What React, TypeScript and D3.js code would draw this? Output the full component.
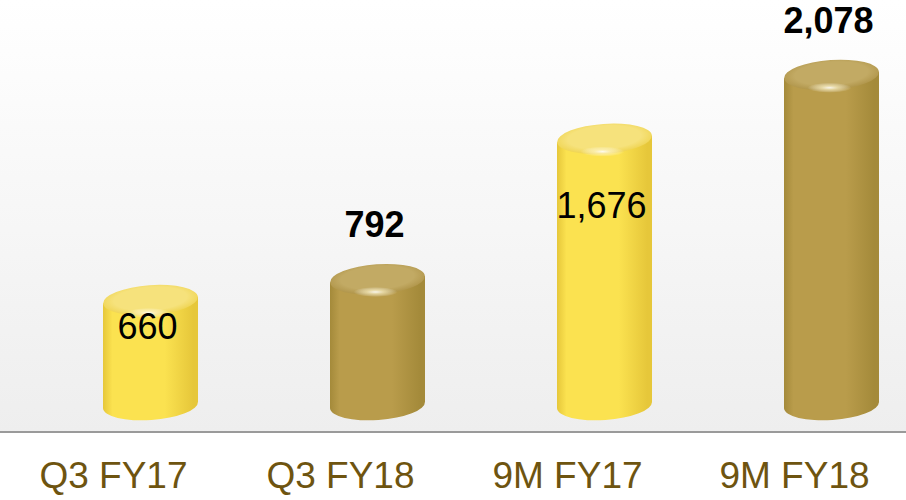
import React from 'react';
import * as d3 from 'd3';

const categories = ['Q3 FY17', 'Q3 FY18', '9M FY17', '9M FY18'];
const values = [660, 792, 1676, 2078];
const valueLabels = ['660', '792', '1,676', '2,078'];
const labelInside = [true, false, true, false];
const barTone = ['yellow', 'gold', 'yellow', 'gold'];

const W = 906;
const H = 500;

const tones = {
  yellow: { edge: '#e6c73a', mid: '#fbe250', top: '#efd452', topIn: '#f6e27c' },
  gold: { edge: '#a48a3a', mid: '#b99c4b', top: '#b0954a', topIn: '#c2aa64' },
};

const App = () => {
  const x = d3.scaleBand<string>().domain(categories).range([0, 908]);
  const y = d3.scaleLinear().domain([0, 2078]).range([405, 75]);
  const barW = 95;
  const rx = barW / 2;
  const ry = 15;
  const tilt = -4;
  const dy = rx * Math.sin((Math.abs(tilt) * Math.PI) / 180);
  const depth = 37;
  const baseY = 432;

  return (
    <svg
      width={W}
      height={H}
      style={{ position: 'absolute', left: 0, top: 0 }}
      fontFamily="'Liberation Sans', Arial, sans-serif"
    >
      <defs>
        <linearGradient id="bg" x1="0" y1="0" x2="0" y2="1">
          <stop offset="0" stopColor="#ffffff" />
          <stop offset="1" stopColor="#eeeeee" />
        </linearGradient>
        {Object.entries(tones).map(([k, t]) => (
          <React.Fragment key={k}>
            <linearGradient id={`body-${k}`} x1="0" y1="0" x2="1" y2="0">
              <stop offset="0" stopColor={t.edge} />
              <stop offset="0.1" stopColor={t.mid} />
              <stop offset="0.65" stopColor={t.mid} />
              <stop offset="0.95" stopColor={t.edge} />
              <stop offset="1" stopColor={t.edge} />
            </linearGradient>
            <radialGradient id={`top-${k}`} cx="0.5" cy="0.45" r="0.55">
              <stop offset="0" stopColor={t.topIn} />
              <stop offset="0.7" stopColor={t.topIn} />
              <stop offset="1" stopColor={t.top} />
            </radialGradient>
          </React.Fragment>
        ))}
        <radialGradient id="hl" cx="0.5" cy="0.5" r="0.5">
          <stop offset="0" stopColor="#ffffff" stopOpacity={0.9} />
          <stop offset="0.4" stopColor="#fff6cc" stopOpacity={0.6} />
          <stop offset="1" stopColor="#ffffff" stopOpacity={0} />
        </radialGradient>
      </defs>
      <rect x={0} y={0} width={W} height={baseY} fill="url(#bg)" />
      <rect x={0} y={baseY} width={W} height={H - baseY} fill="#ffffff" />
      <line x1={0} x2={W} y1={baseY} y2={baseY} stroke="#9a9a9a" strokeWidth={2} />

      {categories.map((c, i) => {
        const cx = (x(c) ?? 0) + x.bandwidth() / 2 + depth;
        const top = y(values[i]);
        const bottom = y(0);
        const tone = barTone[i];
        const bodyPath = `M${cx - rx},${top + dy} L${cx - rx},${bottom + dy} A${rx},${ry} ${tilt} 0 0 ${cx + rx},${bottom - dy} L${cx + rx},${top - dy} Z`;
        return (
          <g key={c}>
            <path d={bodyPath} fill={`url(#body-${tone})`} />
            <ellipse
              cx={cx}
              cy={top}
              rx={rx}
              ry={ry}
              fill={`url(#top-${tone})`}
              transform={`rotate(${tilt} ${cx} ${top})`}
            />
            <ellipse cx={cx - 2} cy={top + ry * 0.85} rx={22} ry={5} fill="url(#hl)" />
          </g>
        );
      })}

      {categories.map((c, i) => {
        const cx = (x(c) ?? 0) + x.bandwidth() / 2 + depth - 3;
        const inside = labelInside[i];
        const ly = inside ? y(values[i] * 0.75) + 13 : y(values[i]) - 42;
        return (
          <text
            key={`v-${c}`}
            x={cx}
            y={ly}
            textAnchor="middle"
            fontSize={36}
            fontWeight={inside ? 'normal' : 'bold'}
            fill="#000"
          >
            {valueLabels[i]}
          </text>
        );
      })}

      {categories.map((c) => (
        <text
          key={`c-${c}`}
          x={(x(c) ?? 0) + x.bandwidth() / 2}
          y={488}
          textAnchor="middle"
          fontSize={37}
          fill="#6e5410"
        >
          {c}
        </text>
      ))}
    </svg>
  );
};

export default App;
